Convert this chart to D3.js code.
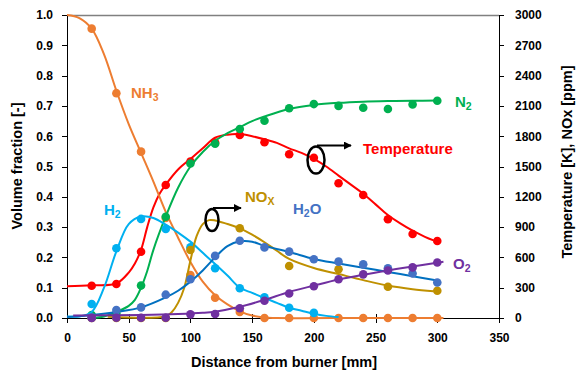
<!DOCTYPE html>
<html lang="en">
<head>
  <meta charset="utf-8">
  <title>Species and temperature profiles</title>
  <style>
    body { margin: 0; background: #fff; }
    svg { display: block; font-family: "Liberation Sans", Arial, sans-serif; }
    .axis text { font-size: 12px; font-weight: bold; fill: #000; }
    .axis path, .axis line { stroke: #000; stroke-width: 1; shape-rendering: crispEdges; }
    .title { font-size: 14.5px; font-weight: bold; fill: #000; }
    .lbl { font-size: 15px; font-weight: bold; }
  </style>
</head>
<body>
  <div id="chart"></div>
  <script src="https://d3js.org/d3.v7.min.js"></script>
  <script>
    // measured points (distance in mm)
    var xPts = [20, 40, 60, 80, 100, 120, 140, 160, 180, 200, 220, 240, 260, 280, 300];
    var nh3Pts = [0.955, 0.742, 0.549, 0.33, 0.142, 0.067, 0.02, 0, 0, 0, 0, 0, 0, 0, 0];
    var n2Pts = [0.01, 0.015, 0.107, 0.334, 0.51, 0.575, 0.624, 0.651, 0.692, 0.706, 0.70, 0.694, 0.69, 0.705, 0.717];
    var h2oPts = [0.002, 0.026, 0.035, 0.077, 0.128, 0.205, 0.255, 0.233, 0.219, 0.194, 0.186, 0.177, 0.164, 0.147, 0.117];
    var o2Pts = [0, 0.001, 0.001, 0.001, 0.012, 0.013, 0.032, 0.057, 0.081, 0.105, 0.128, 0.144, 0.157, 0.167, 0.183];
    var tempPts = [320, 337, 656, 1317, 1548, 1736, 1812, 1740, 1621, 1587, 1334, 1218, 977, 832, 762];
    var h2PtsX = [20, 40, 60, 80, 100, 120, 140, 160, 180, 200];
    var h2Pts = [0.046, 0.23, 0.327, 0.294, 0.233, 0.164, 0.098, 0.068, 0.034, 0.017];
    var noxPtsX = [20, 40, 60, 80, 100, 140, 180, 220, 260, 300];
    var noxPts = [0, 0, 0, 0, 673, 888, 515, 482, 310, 270];

    // fitted curves
    var nh3CurveX = [0, 10, 20, 30, 40, 50, 60, 70, 80, 90, 100, 110, 120, 130, 140, 150, 160, 170, 240, 305];
    var nh3CurveY = [1.0, 0.99, 0.955, 0.87, 0.75, 0.64, 0.545, 0.45, 0.35, 0.265, 0.185, 0.12, 0.075, 0.045, 0.022, 0.008, 0.002, 0, 0, 0];
    var h2CurveX = [0, 10, 20, 30, 40, 50, 60, 70, 80, 90, 100, 110, 120, 130, 140, 150, 160, 170, 180, 190, 200, 210, 220];
    var h2CurveY = [0.005, 0.005, 0.02, 0.1, 0.22, 0.31, 0.335, 0.33, 0.308, 0.282, 0.252, 0.215, 0.178, 0.14, 0.1, 0.083, 0.066, 0.05, 0.034, 0.024, 0.014, 0.007, 0.003];
    var n2CurveX = [20, 30, 40, 50, 55, 60, 65, 70, 80, 90, 100, 110, 120, 130, 140, 150, 160, 180, 200, 220, 240, 260, 280, 300];
    var n2CurveY = [0, 0.005, 0.02, 0.04, 0.06, 0.1, 0.155, 0.225, 0.335, 0.43, 0.5, 0.548, 0.585, 0.61, 0.63, 0.65, 0.665, 0.69, 0.703, 0.71, 0.714, 0.716, 0.717, 0.718];
    var h2oCurveX = [0, 20, 40, 60, 80, 90, 100, 110, 120, 130, 140, 150, 160, 180, 200, 220, 240, 260, 280, 300];
    var h2oCurveY = [0.003, 0.01, 0.02, 0.035, 0.068, 0.09, 0.12, 0.157, 0.2, 0.237, 0.253, 0.252, 0.238, 0.218, 0.195, 0.18, 0.166, 0.152, 0.138, 0.124];
    var o2CurveX = [5, 60, 90, 110, 120, 140, 160, 180, 200, 220, 240, 260, 280, 305];
    var o2CurveY = [0.008, 0.01, 0.013, 0.017, 0.021, 0.037, 0.06, 0.086, 0.107, 0.127, 0.143, 0.157, 0.17, 0.186];
    var tempCurveX = [0, 20, 40, 50, 55, 60, 65, 70, 75, 80, 90, 100, 110, 120, 130, 140, 150, 160, 170, 180, 190, 200, 210, 220, 230, 240, 250, 260, 270, 280, 290, 297];
    var tempCurveY = [315, 324, 342, 450, 540, 675, 900, 1095, 1230, 1320, 1470, 1575, 1680, 1785, 1815, 1821, 1800, 1770, 1734, 1680, 1635, 1575, 1500, 1410, 1320, 1230, 1125, 1020, 936, 864, 804, 768];
    var noxCurveX = [33, 80, 85, 90, 95, 100, 105, 110, 115, 120, 130, 140, 150, 160, 170, 180, 200, 220, 240, 260, 280, 297];
    var noxCurveY = [12, 18, 60, 150, 300, 570, 810, 930, 969, 966, 930, 888, 825, 750, 666, 585, 495, 435, 375, 321, 285, 264];

    var xTicks = [0, 50, 100, 150, 200, 250, 300, 350];
    var leftTicks = [0, 0.1, 0.2, 0.3, 0.4, 0.5, 0.6, 0.7, 0.8, 0.9, 1.0];
    var rightTicks = [0, 300, 600, 900, 1200, 1500, 1800, 2100, 2400, 2700, 3000];

    var W = 576, H = 371;
    var pL = 67, pR = 499, pT = 15, pB = 318;

    var x = d3.scaleLinear().domain([0, 350]).range([pL, pR]);
    var yL = d3.scaleLinear().domain([0, 1]).range([pB, pT]);
    var yR = d3.scaleLinear().domain([0, 3000]).range([pB, pT]);

    var svg = d3.select("#chart").append("svg")
        .attr("width", W)
        .attr("height", H);

    // top frame line
    svg.append("line")
        .attr("x1", pL).attr("x2", pR)
        .attr("y1", pT + 0.5).attr("y2", pT + 0.5)
        .attr("stroke", "#808080").attr("stroke-width", 1.5);

    var gx = svg.append("g")
        .attr("class", "axis")
        .attr("transform", "translate(0," + pB + ")")
        .call(d3.axisBottom(x).tickValues(xTicks).tickSize(5).tickPadding(10).tickSizeOuter(0));
    gx.selectAll(".tick line").attr("y1", -4);

    svg.append("g")
        .attr("class", "axis")
        .attr("transform", "translate(" + pL + ",0)")
        .call(d3.axisLeft(yL).tickValues(leftTicks).tickFormat(d3.format(".1f")).tickSize(5).tickPadding(9).tickSizeOuter(0));

    svg.append("g")
        .attr("class", "axis")
        .attr("transform", "translate(" + pR + ",0)")
        .call(d3.axisRight(yR).tickValues(rightTicks).tickFormat(d3.format("d")).tickSize(5).tickPadding(11).tickSizeOuter(0));

    svg.append("text").attr("class", "title")
        .attr("x", (pL + pR) / 2 + 1).attr("y", 367)
        .attr("text-anchor", "middle")
        .text("Distance from burner [mm]");

    svg.append("text").attr("class", "title")
        .attr("transform", "translate(22,166) rotate(-90)")
        .attr("text-anchor", "middle")
        .text("Volume fraction [-]");

    svg.append("text").attr("class", "title")
        .attr("transform", "translate(572,162) rotate(-90)")
        .attr("text-anchor", "middle")
        .text("Temperature [K], NOx [ppm]");

    var plot = svg.append("g");

    function series(cx, cy, px, py, yScale, lineColor, dotColor) {
      var line = d3.line()
          .x(function(d) { return x(d[0]); })
          .y(function(d) { return yScale(d[1]); })
          .curve(d3.curveCatmullRom.alpha(0.5));
      plot.append("path")
          .datum(d3.zip(cx, cy))
          .attr("d", line)
          .attr("fill", "none")
          .attr("stroke", lineColor)
          .attr("stroke-width", 2);
      plot.selectAll(null)
          .data(d3.zip(px, py))
          .enter().append("circle")
          .attr("cx", function(d) { return x(d[0]); })
          .attr("cy", function(d) { return yScale(d[1]); })
          .attr("r", 4.3)
          .attr("fill", dotColor);
    }

    series(tempCurveX, tempCurveY, xPts, tempPts, yR, "#FF0000", "#FF0000");
    series(nh3CurveX, nh3CurveY, xPts, nh3Pts, yL, "#ED7D31", "#ED7D31");
    series(n2CurveX, n2CurveY, xPts, n2Pts, yL, "#00B050", "#00B050");
    series(h2CurveX, h2CurveY, h2PtsX, h2Pts, yL, "#00B0F0", "#00B0F0");
    series(noxCurveX, noxCurveY, noxPtsX, noxPts, yR, "#BF9000", "#BF9000");
    series(h2oCurveX, h2oCurveY, xPts, h2oPts, yL, "#0070C0", "#4472C4");
    series(o2CurveX, o2CurveY, xPts, o2Pts, yL, "#7030A0", "#7030A0");

    // species labels
    function label(px, py, color, main, sub, tail) {
      var t = svg.append("text").attr("class", "lbl")
          .attr("x", px).attr("y", py).attr("fill", color);
      t.append("tspan").text(main);
      t.append("tspan").attr("font-size", "10.5px").attr("dy", 3).text(sub);
      if (tail) t.append("tspan").attr("dy", -3).text(tail);
    }
    label(131, 98, "#ED7D31", "NH", "3");
    label(104, 215, "#00B0F0", "H", "2");
    label(245, 202, "#BF9000", "NO", "X");
    label(293, 214, "#4472C4", "H", "2", "O");
    label(455, 107, "#00B050", "N", "2");
    label(453, 269, "#7030A0", "O", "2");
    svg.append("text").attr("class", "lbl")
        .attr("x", 363).attr("y", 154).attr("fill", "#FF0000")
        .text("Temperature");

    // ellipse + arrow markers pointing to right axis
    svg.append("defs").append("marker")
        .attr("id", "head")
        .attr("viewBox", "0 0 10 10")
        .attr("refX", 9).attr("refY", 5)
        .attr("markerWidth", 4).attr("markerHeight", 4)
        .attr("orient", "auto")
        .append("path").attr("d", "M0,0L10,5L0,10z").attr("fill", "#000");

    function pointer(cx, cy, rx, ry, tipX) {
      svg.append("ellipse")
          .attr("cx", cx).attr("cy", cy).attr("rx", rx).attr("ry", ry)
          .attr("fill", "none").attr("stroke", "#000").attr("stroke-width", 2.5);
      svg.append("line")
          .attr("x1", cx + 1).attr("y1", cy - ry - 1)
          .attr("x2", tipX).attr("y2", cy - ry - 1)
          .attr("stroke", "#000").attr("stroke-width", 2)
          .attr("marker-end", "url(#head)");
    }
    pointer(316, 160, 8.5, 13.5, 351);
    pointer(212, 220, 6.5, 11, 241);
  </script>
</body>
</html>
